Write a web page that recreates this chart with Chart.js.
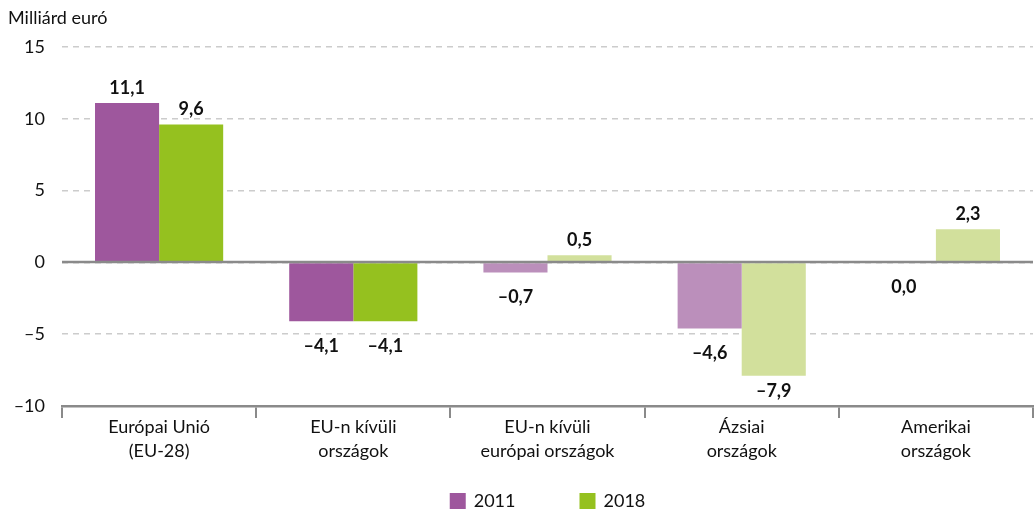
<!DOCTYPE html>
<html><head><meta charset="utf-8">
<script src="https://cdn.jsdelivr.net/npm/chart.js@4/dist/chart.umd.min.js"></script>
<style>html,body{margin:0;padding:0;background:#fff;}#wrap{width:1035px;height:511px;}</style>
</head><body><div id="wrap"><canvas id="c" width="1035" height="511"></canvas></div>
<script>
const categories = [["Európai Unió","(EU-28)"],["EU-n kívüli","országok"],["EU-n kívüli","európai országok"],["Ázsiai","országok"],["Amerikai","országok"]];
const seriesNames = ["2011","2018"];
const values2011 = [11.1, -4.1, -0.7, -4.6, 0.0];
const values2018 = [9.6, -4.1, 0.5, -7.9, 2.3];
const yTicks = [-10, -5, 0, 5, 10, 15];
const unitLabel = "Milliárd euró";

const FONT = "Lato, 'Noto Sans', sans-serif";
const purple = "#9e579d", purpleLight = "#bb8fbb";
const green = "#95c11f", greenLight = "#d2e09c";
const colors2011 = [purple, purple, purpleLight, purpleLight, purpleLight];
const colors2018 = [green, green, greenLight, greenLight, greenLight];
const legendColors = [purple, green];

function fmt(v){ return v.toFixed(1).replace('.', ',').replace('-', '–'); }

const extras = {
  id: 'extras',
  afterDatasetsDraw(chart){
    const ctx = chart.ctx, ys = chart.scales.y, area = chart.chartArea;
    const y0 = Math.round(ys.getPixelForValue(0));
    ctx.save();
    ctx.strokeStyle = '#8a8a8a'; ctx.lineWidth = 2.5;
    ctx.beginPath(); ctx.moveTo(area.left, y0); ctx.lineTo(area.right, y0); ctx.stroke();
    ctx.fillStyle = '#111'; ctx.font = "bold 18px " + FONT;
    ctx.textAlign = 'center'; ctx.textBaseline = 'middle';
    chart.data.datasets.forEach((ds, di) => {
      const meta = chart.getDatasetMeta(di);
      meta.data.forEach((bar, i) => {
        const v = ds.data[i];
        let y;
        if (v > 0) y = bar.y - 15;
        else y = Math.min(bar.y + 25, area.bottom - 15);
        ctx.fillText(fmt(v), bar.x, y);
      });
    });
    // unit label
    ctx.textAlign = 'left'; ctx.font = "18px " + FONT;
    ctx.fillText(unitLabel, 8, 18);
    // legend
    ctx.font = "18px " + FONT;
    const box = 16, gapText = 8, gapItem = 64;
    const widths = seriesNames.map(n => box + gapText + ctx.measureText(n).width);
    const total = widths.reduce((a, b) => a + b, 0) + gapItem * (widths.length - 1);
    let x = (area.left + area.right) / 2 - total / 2;
    const ly = 501;
    seriesNames.forEach((n, i) => {
      ctx.fillStyle = legendColors[i];
      ctx.fillRect(x, ly - box / 2, box, box);
      ctx.fillStyle = '#111';
      ctx.fillText(n, x + box + gapText, ly);
      x += widths[i] + gapItem;
    });
    ctx.restore();
  }
};

new Chart(document.getElementById('c'), {
  type: 'bar',
  data: {
    labels: categories,
    datasets: [
      { label: seriesNames[0], data: values2011, backgroundColor: colors2011 },
      { label: seriesNames[1], data: values2018, backgroundColor: colors2018 }
    ]
  },
  options: {
    responsive: false, animation: false,
    devicePixelRatio: 1,
    layout: { padding: { top: 47, right: 2, left: 0, bottom: 0 } },
    datasets: { bar: { categoryPercentage: 0.66, barPercentage: 1.0 } },
    scales: {
      x: {
        afterFit(scale){ scale.height = 105; },
        grid: { drawOnChartArea: false, drawTicks: true, tickLength: 12, color: '#8a8a8a', lineWidth: 2, offset: true },
        border: { display: true, color: '#8a8a8a', width: 2.5 },
        ticks: { color: '#111', font: { family: FONT, size: 18, lineHeight: 1.33 }, padding: -3, maxRotation: 0, autoSkip: false }
      },
      y: {
        min: -10, max: 15,
        afterBuildTicks(scale){ scale.ticks = yTicks.map(v => ({ value: v })); },
        afterFit(scale){ scale.width = 62; },
        grid: { drawTicks: false, color: (c) => c.tick && c.tick.value === -10 ? 'rgba(0,0,0,0)' : '#cccccc', lineWidth: 1.5 },
        border: { display: false, dash: [6, 5] },
        ticks: { color: '#111', font: { family: FONT, size: 18 }, padding: 17,
                 callback: (v) => String(v).replace('-', '–') }
      }
    },
    plugins: {
      legend: { display: false },
      tooltip: { enabled: false }
    }
  },
  plugins: [extras]
});
</script></body></html>
